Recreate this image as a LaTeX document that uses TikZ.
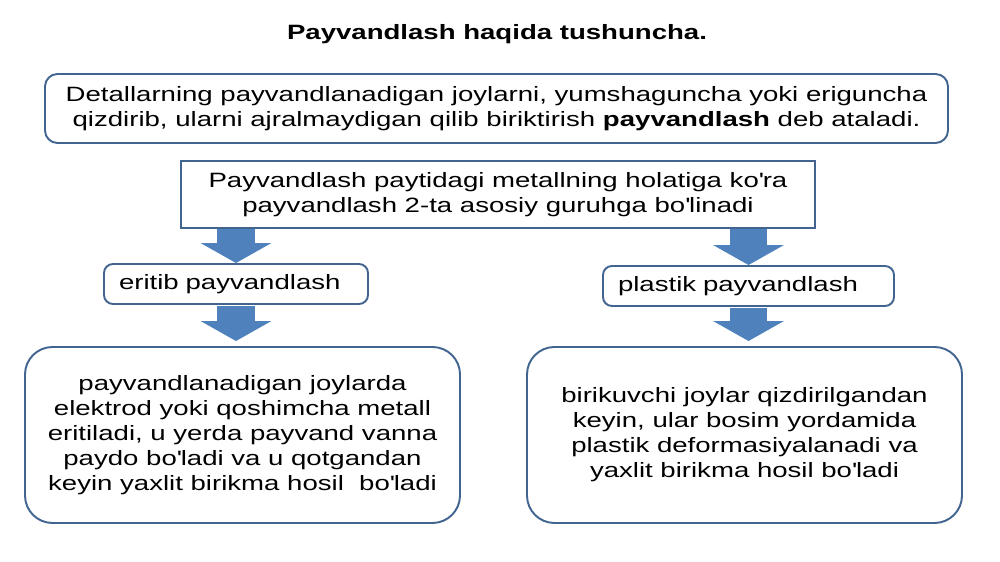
\documentclass[tikz,border=0pt]{standalone}
\usepackage{fontspec}
\setmainfont{Liberation Sans}[FakeStretch=1.33]
\usetikzlibrary{arrows.meta, calc, positioning}
\definecolor{boxline}{RGB}{65,100,145}
\definecolor{arrowblue}{RGB}{79,129,189}
\newcommand{\ap}{\textquotesingle}
\tikzstyle{heading} = [font=\fontsize{11.8}{14.2}\selectfont\bfseries]
\tikzstyle{roundbox} = [rectangle, draw=boxline, line width=1.1pt, rounded corners=2.5mm, align=center]
\tikzstyle{squarebox} = [rectangle, draw=boxline, line width=0.9pt, align=center]
\tikzstyle{kindbox} = [rectangle, draw=boxline, line width=1.1pt, rounded corners=1.8mm, minimum height=0.8cm, inner xsep=0.3cm, align=left]
\tikzstyle{textbox} = [rectangle, draw=boxline, line width=1.1pt, rounded corners=5.5mm, minimum width=8.7cm, minimum height=3.52cm, align=center]
\tikzstyle{bigarrow} = [arrowblue, line width=0.75cm, shorten <=0.5pt, -{Triangle[width=1.4cm, length=0.4cm]}]

\begin{document}
\begin{tikzpicture}[font=\fontsize{11.8}{14.2}\selectfont]
	\useasboundingbox (0,0) rectangle (20,-11.24);
	\node (Title) [heading] at (9.94,-0.68) {Payvandlash haqida tushuncha.};
	\node (Definition) [roundbox, minimum width=18.06cm, minimum height=1.38cm] at (9.93,-2.17) {Detallarning payvandlanadigan joylarni, yumshaguncha yoki eriguncha\\qizdirib, ularni ajralmaydigan qilib biriktirish \textbf{payvandlash} deb ataladi.};
	\node (Groups) [squarebox, minimum width=12.68cm, minimum height=1.34cm, below = 0.32cm of Definition, xshift=0.03cm] {Payvandlash paytidagi metallning holatiga ko\ap ra\\payvandlash 2-ta asosiy guruhga bo\ap linadi};

	\node (Fusion) [kindbox, text width=4.68cm] at (4.72,-5.68) {eritib payvandlash};
	\node (Plastic) [kindbox, text width=5.22cm] at (14.97,-5.72) {plastik payvandlash};

	\node (FusionText) [textbox] at (4.85,-8.7) {payvandlanadigan joylarda\\elektrod yoki qoshimcha metall\\eritiladi, u yerda payvand vanna\\paydo bo\ap ladi va u qotgandan\\keyin yaxlit birikma hosil\ \ bo\ap ladi};
	\node (PlasticText) [textbox] at (14.89,-8.7) {birikuvchi joylar qizdirilgandan\\keyin, ular bosim yordamida\\plastik deformasiyalanadi va\\yaxlit birikma hosil bo\ap ladi};

	\draw [bigarrow] (Groups.south -| Fusion.north) -- (Fusion.north);
	\draw [bigarrow] (Groups.south -| Plastic.north) -- (Plastic.north);
	\draw [bigarrow, shorten >=0.1cm] (Fusion.south) -- (Fusion.south |- FusionText.north);
	\draw [bigarrow, shorten >=0.1cm] (Plastic.south) -- (Plastic.south |- PlasticText.north);
\end{tikzpicture}
\end{document}
